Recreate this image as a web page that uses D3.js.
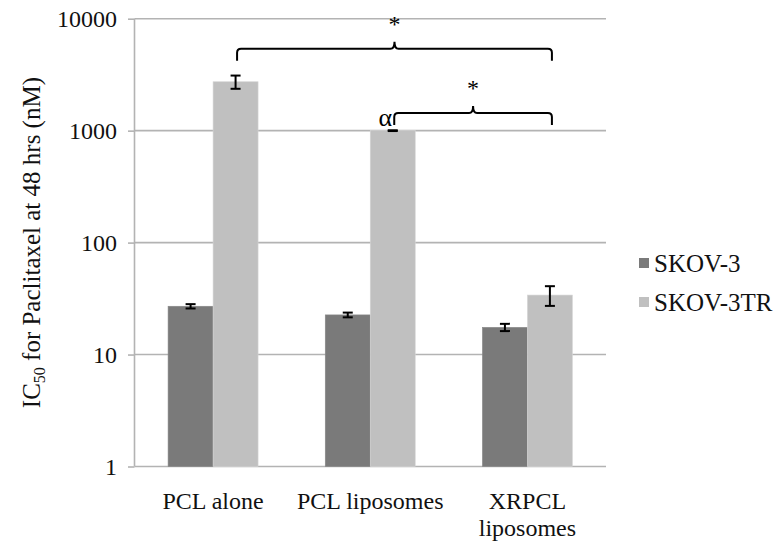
<!DOCTYPE html>
<html>
<head>
<meta charset="utf-8">
<script src="https://cdn.jsdelivr.net/npm/d3@7"></script>
<style>
html,body{margin:0;padding:0;background:#fff;}
svg{display:block;}
svg text{font-family:"Liberation Serif","Times New Roman",serif;}
</style>
</head>
<body>
<svg id="chart" width="774" height="546"></svg>
<script>
const categories = [["PCL alone"], ["PCL liposomes"], ["XRPCL", "liposomes"]];
const categoryKeys = ["PCL alone", "PCL liposomes", "XRPCL liposomes"];
const seriesNames = ["SKOV-3", "SKOV-3TR"];
const skov3 = [27.0, 22.6, 17.5];
const skov3Err = [1.2, 1.1, 1.3];
const skov3TR = [2735, 1000, 34];
const skov3TRErr = [370, 8, 6.8];
const yTicks = [1, 10, 100, 1000, 10000];
const brackets = [
  {from: 0, to: 2, level: 5400, label: "*"},
  {from: 1, to: 2, level: 1440, label: "*", note: "α"}
];

const SERIF = "Liberation Serif, Times New Roman, serif";
const colors = ["#7a7a7a", "#c0c0c0"];
const svg = d3.select("#chart");
const pLeft = 134.5, pRight = 606, pTop = 18.7, pBottom = 466.5;

const x0 = d3.scaleBand().domain(categoryKeys).range([pLeft, pRight])
  .paddingInner(0.4275).paddingOuter(0.21375);
const x1 = d3.scaleBand().domain(seriesNames).range([0, x0.bandwidth()]).padding(0);
const y = d3.scaleLog().domain([1, 10000]).range([pBottom, pTop]);

// gridlines
svg.append("g").selectAll("line").data(yTicks).join("line")
  .attr("x1", pLeft).attr("x2", pRight)
  .attr("y1", d => y(d)).attr("y2", d => y(d))
  .attr("stroke", "#b3b3b3").attr("stroke-width", 1.6);

// y axis
const yAxis = d3.axisLeft(y).tickValues(yTicks).tickFormat(d3.format("d"))
  .tickSize(6.5).tickPadding(11);
const ga = svg.append("g").attr("transform", `translate(${pLeft},0)`).call(yAxis)
  .attr("font-family", SERIF).attr("font-size", 24);
ga.select(".domain").attr("stroke", "#b3b3b3").attr("stroke-width", 1.6)
  .attr("d", `M0,${pBottom}V${pTop}`);
ga.selectAll(".tick line").attr("stroke", "#b3b3b3").attr("stroke-width", 1.6);
ga.selectAll(".tick text").attr("font-family", SERIF).attr("font-size", 24)
  .attr("fill", "#111").attr("dy", "0.34em");

// bars
const rows = categoryKeys.map((c, i) => ({
  cat: c,
  vals: [
    {s: seriesNames[0], v: skov3[i], e: skov3Err[i], c: colors[0]},
    {s: seriesNames[1], v: skov3TR[i], e: skov3TRErr[i], c: colors[1]}
  ]
}));
const g = svg.append("g").selectAll("g").data(rows).join("g")
  .attr("transform", d => `translate(${x0(d.cat)},0)`);
g.selectAll("rect").data(d => d.vals).join("rect")
  .attr("x", d => x1(d.s)).attr("width", x1.bandwidth())
  .attr("y", d => y(d.v)).attr("height", d => pBottom - y(d.v))
  .attr("fill", d => d.c).attr("stroke", d => d3.color(d.c).brighter(0.3)).attr("stroke-width", 0.6);

// error bars
const eb = g.selectAll("g.err").data(d => d.vals).join("g").attr("class", "err")
  .attr("transform", d => `translate(${x1(d.s) + x1.bandwidth() / 2},0)`);
eb.append("line").attr("x1", 0).attr("x2", 0)
  .attr("y1", d => y(d.v + d.e)).attr("y2", d => y(d.v - d.e))
  .attr("stroke", "#000").attr("stroke-width", 2);
eb.append("line").attr("x1", -5).attr("x2", 5)
  .attr("y1", d => y(d.v + d.e)).attr("y2", d => y(d.v + d.e))
  .attr("stroke", "#000").attr("stroke-width", 2);
eb.append("line").attr("x1", -5).attr("x2", 5)
  .attr("y1", d => y(d.v - d.e)).attr("y2", d => y(d.v - d.e))
  .attr("stroke", "#000").attr("stroke-width", 2);

// x labels
const xl = svg.append("g").selectAll("text").data(categories).join("text")
  .attr("x", (d, i) => x0(categoryKeys[i]) + x0.bandwidth() / 2)
  .attr("y", 509).attr("text-anchor", "middle")
  .attr("font-family", SERIF).attr("font-size", 24).attr("fill", "#111");
xl.selectAll("tspan").data(d => d).join("tspan")
  .attr("x", function() { return this.parentNode.getAttribute("x"); })
  .attr("dy", (d, i) => i === 0 ? 0 : 27).text(d => d);

// y title
const yt = svg.append("text")
  .attr("transform", `translate(40,${(pTop + pBottom) / 2}) rotate(-90)`)
  .attr("text-anchor", "middle").attr("font-family", SERIF)
  .attr("font-size", 25).attr("fill", "#111");
yt.append("tspan").text("IC");
yt.append("tspan").attr("font-size", 16).attr("dy", 5).text("50");
yt.append("tspan").attr("dy", -5).text(" for Paclitaxel at 48 hrs (nM)");

// brackets
const lightCenter = i => x0(categoryKeys[i]) + x1(seriesNames[1]) + x1.bandwidth() / 2;
brackets.forEach(b => {
  const xa = lightCenter(b.from) + 1.5, xb = lightCenter(b.to) + 2;
  const yh = y(b.level);
  const drop = 12, tip = 7, r = 4;
  const xm = (xa + xb) / 2;
  const p = d3.path();
  p.moveTo(xa, yh + drop);
  p.lineTo(xa, yh + r);
  p.quadraticCurveTo(xa, yh, xa + r, yh);
  p.lineTo(xm - r, yh);
  p.quadraticCurveTo(xm, yh, xm, yh - tip);
  p.quadraticCurveTo(xm, yh, xm + r, yh);
  p.lineTo(xb - r, yh);
  p.quadraticCurveTo(xb, yh, xb, yh + r);
  p.lineTo(xb, yh + drop);
  svg.append("path").attr("d", p.toString()).attr("fill", "none")
    .attr("stroke", "#000").attr("stroke-width", 2);
  svg.append("text").attr("x", xm).attr("y", yh - tip - 10)
    .attr("text-anchor", "middle").attr("font-family", "Liberation Sans")
    .attr("font-size", 24).text(b.label);
  if (b.note) {
    svg.append("text").attr("x", xa - 2).attr("y", yh + drop + 1)
      .attr("text-anchor", "end").attr("font-family", "DejaVu Sans")
      .attr("font-size", 26).text(b.note);
  }
});

// legend
const lg = svg.append("g").selectAll("g").data(seriesNames).join("g")
  .attr("transform", (d, i) => `translate(639,${272 + i * 39})`);
lg.append("rect").attr("x", 0).attr("y", -14).attr("width", 10).attr("height", 10)
  .attr("fill", (d, i) => colors[i]);
lg.append("text").attr("x", 15).attr("y", 0).attr("font-family", SERIF).attr("font-size", 25)
  .attr("fill", "#111").text(d => d);
</script>
</body>
</html>
